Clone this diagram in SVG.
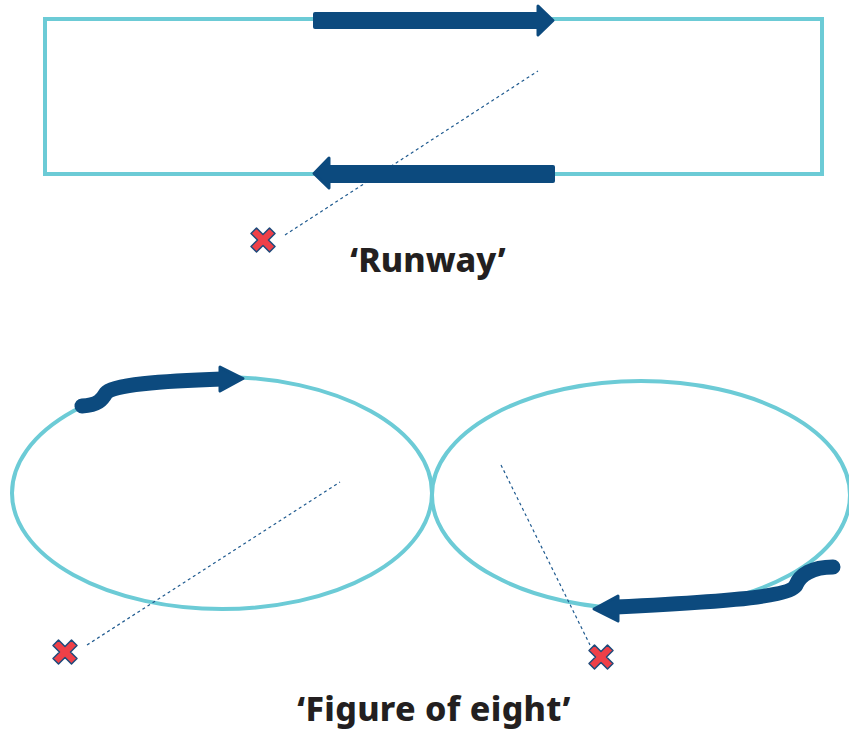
<svg xmlns="http://www.w3.org/2000/svg" xmlns:xlink="http://www.w3.org/1999/xlink" width="849" height="733" viewBox="0 0 849 733">
  <style>
    .track { fill: none; stroke: #6ccbd6; stroke-width: 4; }
    .flow { fill: none; stroke: #0c4a7e; stroke-width: 15; stroke-linecap: round; stroke-linejoin: round; }
    .head { fill: #0c4a7e; stroke: #0c4a7e; stroke-width: 3; stroke-linejoin: round; }
    .sight { fill: none; stroke: #1f5a8f; stroke-width: 1.2; stroke-dasharray: 3 3; }
    .mark { fill: #ef4048; stroke: #1d4a7b; stroke-width: 1.5; stroke-linejoin: round; }
    .title { font-family: "Noto Sans", "Liberation Sans", sans-serif; font-weight: 800; fill: #231f20; text-anchor: middle; }
  </style>
  <defs>
    <path id="cross" d="M0,-5.5 L6.5,-12 L12,-6.5 L5.5,0 L12,6.5 L6.5,12 L0,5.5 L-6.5,12 L-12,6.5 L-5.5,0 L-12,-6.5 L-6.5,-12 Z"/>
  </defs>

  <rect width="849" height="733" fill="#ffffff"/>

  <!-- Runway circuit -->
  <g id="runway">
    <rect class="track" x="45" y="19" width="777" height="155"/>
    <text class="title" x="428" y="272" font-size="34">‘Runway’</text>
  </g>

  <!-- Figure of eight circuit -->
  <g id="figure-eight">
    <ellipse class="track" cx="222" cy="493" rx="210" ry="116"/>
    <ellipse class="track" cx="641" cy="495" rx="209" ry="114"/>
    <text class="title" x="434" y="721" font-size="34" letter-spacing="0.3">‘Figure of eight’</text>
  </g>

  <!-- Observer positions -->
  <g id="observer-runway"><use xlink:href="#cross" class="mark" x="263" y="240"/></g>
  <g id="observer-left"><use xlink:href="#cross" class="mark" x="65" y="652"/></g>
  <g id="observer-right"><use xlink:href="#cross" class="mark" x="601" y="657"/></g>

  <!-- Direction arrows and sight lines -->
  <g id="connectors">
    <line class="sight" x1="285" y1="235" x2="538" y2="71"/>
    <line class="sight" x1="87" y1="645" x2="340" y2="482"/>
    <line class="sight" x1="501" y1="465" x2="590" y2="645"/>

    <!-- runway: top leg heading right -->
    <rect x="313" y="12" width="227" height="17" rx="2" fill="#0c4a7e"/>
    <polygon class="head" points="538,6 553,20.5 538,35"/>
    <!-- runway: bottom leg heading left -->
    <rect x="327" y="165" width="228" height="18" rx="2" fill="#0c4a7e"/>
    <polygon class="head" points="329,158 314,173.5 329,188"/>

    <!-- left loop arrow -->
    <path class="flow" d="M82,406 C98,405 102,400 106,393 C112,385 160,381 222,379"/>
    <polygon class="head" points="220,367 243,378.5 220,391"/>

    <!-- right loop arrow -->
    <path class="flow" d="M833,567 C812,567 800,575 796,585 C790,598 700,603 616,607"/>
    <polygon class="head" points="618,596 594,609 618,621"/>
  </g>
</svg>
